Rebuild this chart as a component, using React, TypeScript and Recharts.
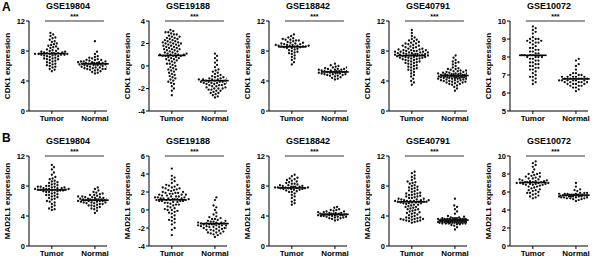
import { ScatterChart, Scatter, XAxis, YAxis, ReferenceLine, Label } from 'recharts'

const groups = ['Tumor', 'Normal']

// CDK1
const cdk1_19804_t = [10.4, 10.2, 10.0, 9.8, 9.7, 9.5, 9.3, 9.2, 9.0, 8.9, 8.8, 8.7, 8.5, 8.4, 8.3, 8.2, 8.1, 8.0, 8.0, 7.9, 7.9, 7.8, 7.8, 7.7, 7.7, 7.7, 7.6, 7.6, 7.6, 7.5, 7.5, 7.5, 7.4, 7.4, 7.3, 7.3, 7.2, 7.1, 7.0, 7.0, 6.9, 6.8, 6.7, 6.6, 6.5, 6.4, 6.3, 6.2, 6.1, 6.0, 5.9, 5.8, 5.6, 5.5, 5.3, 7.6, 7.7, 7.5, 8.6, 6.9]
const cdk1_19804_n = [9.3, 7.9, 7.6, 7.3, 7.1, 7.0, 6.9, 6.8, 6.8, 6.7, 6.7, 6.6, 6.6, 6.5, 6.5, 6.4, 6.4, 6.4, 6.3, 6.3, 6.3, 6.3, 6.2, 6.2, 6.2, 6.1, 6.1, 6.0, 6.0, 6.0, 5.9, 5.9, 5.8, 5.8, 5.7, 5.7, 5.6, 5.6, 5.5, 5.5, 5.4, 5.3, 5.2, 5.1, 5.0, 6.4, 6.3, 6.2, 6.5, 5.9, 6.1, 6.8, 7.2, 5.6, 6.6]
const cdk1_19188_t = [3.2, 3.1, 3.0, 3.0, 2.9, 2.8, 2.8, 2.7, 2.6, 2.6, 2.5, 2.5, 2.4, 2.3, 2.3, 2.2, 2.2, 2.1, 2.1, 2.0, 2.0, 2.0, 1.9, 1.9, 1.8, 1.8, 1.7, 1.7, 1.6, 1.6, 1.5, 1.5, 1.4, 1.4, 1.3, 1.3, 1.2, 1.2, 1.1, 1.1, 1.0, 1.0, 1.0, 0.9, 0.9, 0.9, 0.8, 0.8, 0.7, 0.7, 0.6, 0.5, 0.5, 0.4, 0.3, 0.2, 0.1, 0.0, -0.1, -0.2, -0.3, -0.4, -0.5, -0.6, -0.7, -0.8, -0.9, -1.0, -1.1, -1.2, -1.4, -1.5, -1.6, -1.8, -2.0, -2.2, -2.6, 1.1, 0.9, 1.0, 2.4, 1.8, 0.6, -0.3, 1.5, 2.1, 0.2, -1.3]
const cdk1_19188_n = [1.1, 0.9, 0.7, 0.5, 0.3, 0.1, -0.1, -0.3, -0.5, -0.6, -0.7, -0.8, -0.9, -1.0, -1.0, -1.1, -1.1, -1.2, -1.2, -1.2, -1.3, -1.3, -1.3, -1.4, -1.4, -1.4, -1.5, -1.5, -1.5, -1.6, -1.6, -1.7, -1.7, -1.8, -1.8, -1.9, -1.9, -2.0, -2.0, -2.1, -2.1, -2.2, -2.2, -2.3, -2.4, -2.4, -2.5, -2.6, -2.7, -2.8, -1.3, -1.4, -1.2, -1.5, -1.6, -0.4, -2.0, -1.1, -0.9, -1.7]
const cdk1_18842_t = [10.2, 10.0, 9.8, 9.7, 9.6, 9.5, 9.5, 9.4, 9.3, 9.2, 9.1, 9.0, 9.0, 8.9, 8.9, 8.8, 8.8, 8.7, 8.7, 8.7, 8.6, 8.6, 8.6, 8.5, 8.5, 8.4, 8.4, 8.3, 8.2, 8.1, 8.0, 7.9, 7.8, 7.6, 7.4, 7.2, 7.0, 6.8, 6.5, 6.2, 8.7, 8.6, 9.4, 8.8, 9.1, 7.7]
const cdk1_18842_n = [6.3, 6.1, 6.0, 5.9, 5.8, 5.7, 5.6, 5.6, 5.5, 5.5, 5.4, 5.4, 5.3, 5.3, 5.3, 5.2, 5.2, 5.2, 5.2, 5.1, 5.1, 5.1, 5.0, 5.0, 5.0, 4.9, 4.9, 4.8, 4.8, 4.7, 4.7, 4.6, 4.5, 4.4, 4.3, 4.2, 5.2, 5.3, 5.1, 5.4, 5.6, 4.9, 5.0, 5.8, 5.5]
const cdk1_40791_t = [10.8, 10.4, 10.0, 9.8, 9.6, 9.4, 9.3, 9.2, 9.1, 9.0, 8.9, 8.8, 8.7, 8.6, 8.5, 8.4, 8.3, 8.2, 8.2, 8.1, 8.1, 8.0, 8.0, 7.9, 7.9, 7.8, 7.8, 7.7, 7.7, 7.6, 7.6, 7.6, 7.5, 7.5, 7.5, 7.4, 7.4, 7.4, 7.3, 7.3, 7.2, 7.2, 7.1, 7.1, 7.0, 7.0, 6.9, 6.8, 6.8, 6.7, 6.6, 6.5, 6.4, 6.3, 6.2, 6.1, 6.0, 5.9, 5.8, 5.7, 5.6, 5.4, 5.2, 5.0, 4.8, 4.6, 4.3, 4.0, 3.8, 3.5, 7.5, 7.6, 7.4, 8.0, 8.5, 9.0, 6.9, 7.2, 7.8, 8.3, 6.6, 7.1, 7.7, 9.5, 5.5, 8.7, 7.3, 6.4, 8.1, 7.9]
const cdk1_40791_n = [7.4, 7.1, 6.8, 6.6, 6.4, 6.2, 6.0, 5.8, 5.7, 5.6, 5.5, 5.4, 5.3, 5.3, 5.2, 5.2, 5.1, 5.1, 5.0, 5.0, 5.0, 4.9, 4.9, 4.9, 4.8, 4.8, 4.8, 4.7, 4.7, 4.7, 4.7, 4.6, 4.6, 4.6, 4.6, 4.5, 4.5, 4.5, 4.5, 4.4, 4.4, 4.4, 4.3, 4.3, 4.3, 4.2, 4.2, 4.1, 4.1, 4.0, 4.0, 3.9, 3.9, 3.8, 3.7, 3.6, 3.5, 3.4, 3.2, 3.0, 2.7, 4.6, 4.7, 4.5, 4.8, 4.4, 5.0, 4.2, 4.9, 5.4, 3.8, 4.1, 4.6, 4.3, 5.6, 3.6, 4.7, 5.1, 4.0, 4.5, 6.5, 3.9, 4.8, 4.4, 5.2]
const cdk1_10072_t = [9.7, 9.6, 9.5, 9.4, 9.3, 9.1, 9.0, 9.0, 8.9, 8.9, 8.8, 8.8, 8.7, 8.6, 8.5, 8.5, 8.4, 8.3, 8.3, 8.2, 8.2, 8.1, 8.1, 8.1, 8.0, 8.0, 8.0, 7.9, 7.9, 7.8, 7.8, 7.7, 7.6, 7.6, 7.5, 7.4, 7.4, 7.3, 7.2, 7.1, 7.0, 6.9, 6.8, 6.7, 6.6, 6.5, 8.9, 9.0, 8.0, 7.7, 8.4, 7.3, 8.8, 8.1, 7.5, 6.9]
const cdk1_10072_n = [7.9, 7.8, 7.6, 7.5, 7.3, 7.1, 7.0, 7.0, 6.9, 6.9, 6.9, 6.8, 6.8, 6.8, 6.8, 6.7, 6.7, 6.7, 6.7, 6.7, 6.6, 6.6, 6.6, 6.6, 6.5, 6.5, 6.5, 6.4, 6.4, 6.3, 6.3, 6.2, 6.1, 6.8, 6.7, 6.9, 6.6, 7.0, 6.5, 6.8, 6.7, 6.4, 6.6, 6.9, 7.1]

// MAD2L1
const mad_19804_t = [10.8, 10.5, 10.2, 9.8, 9.5, 9.2, 9.0, 8.9, 8.7, 8.5, 8.4, 8.3, 8.1, 8.0, 8.0, 7.9, 7.9, 7.8, 7.8, 7.7, 7.7, 7.6, 7.6, 7.6, 7.5, 7.5, 7.5, 7.4, 7.4, 7.3, 7.3, 7.2, 7.1, 7.0, 6.9, 6.8, 6.7, 6.6, 6.5, 6.4, 6.2, 6.0, 5.8, 5.6, 5.4, 5.2, 5.0, 4.9, 4.8, 7.6, 7.4, 8.6, 6.3, 7.7, 7.5, 8.2, 5.9, 6.8, 7.9, 7.2]
const mad_19804_n = [7.8, 7.6, 7.4, 7.2, 7.0, 6.9, 6.8, 6.7, 6.6, 6.5, 6.5, 6.4, 6.4, 6.3, 6.3, 6.2, 6.2, 6.2, 6.1, 6.1, 6.1, 6.0, 6.0, 6.0, 5.9, 5.9, 5.8, 5.8, 5.7, 5.7, 5.6, 5.5, 5.4, 5.3, 5.2, 5.1, 5.0, 4.9, 4.7, 4.4, 6.1, 6.2, 6.0, 6.3, 5.9, 6.6, 5.6, 6.8, 7.1, 5.4, 6.4, 6.0, 5.8, 6.2, 6.5]
const mad_19188_t = [4.6, 3.8, 3.6, 3.4, 3.2, 3.0, 2.8, 2.7, 2.6, 2.5, 2.4, 2.3, 2.2, 2.1, 2.0, 2.0, 1.9, 1.9, 1.8, 1.8, 1.7, 1.7, 1.6, 1.6, 1.5, 1.5, 1.4, 1.4, 1.3, 1.3, 1.3, 1.2, 1.2, 1.2, 1.1, 1.1, 1.1, 1.0, 1.0, 1.0, 0.9, 0.9, 0.8, 0.8, 0.7, 0.6, 0.5, 0.4, 0.3, 0.2, 0.1, 0.0, -0.1, -0.2, -0.4, -0.6, -0.8, -1.0, -1.2, -1.4, -1.6, -2.0, -2.2, -2.8, 1.2, 1.1, 1.3, 2.2, 2.5, 1.7, 0.6, -0.3, 1.9, 2.8, 0.0, 1.5, 1.0, -1.1, 2.4, 1.4]
const mad_19188_n = [1.4, 1.1, 0.5, 0.3, 0.0, -0.3, -0.5, -0.7, -0.9, -1.0, -1.1, -1.2, -1.3, -1.3, -1.4, -1.4, -1.5, -1.5, -1.5, -1.6, -1.6, -1.6, -1.7, -1.7, -1.7, -1.8, -1.8, -1.9, -1.9, -2.0, -2.0, -2.1, -2.1, -2.2, -2.3, -2.3, -2.4, -2.5, -2.6, -2.7, -2.8, -3.0, -1.5, -1.6, -1.4, -1.7, -1.8, -1.5, -2.0, -2.2, -1.2, -0.8, -2.5, -1.9, -1.6, -2.6, -1.0]
const mad_18842_t = [9.5, 9.3, 9.1, 9.0, 8.9, 8.7, 8.6, 8.5, 8.4, 8.3, 8.2, 8.1, 8.0, 8.0, 7.9, 7.9, 7.9, 7.8, 7.8, 7.8, 7.7, 7.7, 7.7, 7.6, 7.6, 7.5, 7.5, 7.4, 7.3, 7.2, 7.0, 6.8, 6.6, 6.4, 6.1, 5.9, 5.7, 5.5, 7.8, 7.9, 8.3, 7.6, 8.8, 7.7, 8.1, 7.2]
const mad_18842_n = [5.2, 5.1, 4.9, 4.8, 4.7, 4.6, 4.5, 4.5, 4.4, 4.4, 4.3, 4.3, 4.3, 4.2, 4.2, 4.2, 4.2, 4.1, 4.1, 4.1, 4.0, 4.0, 4.0, 3.9, 3.9, 3.8, 3.8, 3.7, 3.6, 3.5, 3.4, 4.2, 4.3, 4.1, 4.4, 4.0, 4.6, 3.9, 4.2, 4.5, 4.8, 3.7, 4.3, 4.1, 4.0]
const mad_40791_t = [9.9, 9.7, 9.4, 9.2, 9.0, 8.8, 8.6, 8.4, 8.3, 8.1, 8.0, 7.8, 7.7, 7.5, 7.4, 7.3, 7.2, 7.1, 7.0, 6.9, 6.8, 6.7, 6.6, 6.5, 6.4, 6.3, 6.2, 6.2, 6.1, 6.1, 6.0, 6.0, 6.0, 5.9, 5.9, 5.9, 5.8, 5.8, 5.7, 5.7, 5.6, 5.5, 5.4, 5.3, 5.2, 5.1, 5.0, 4.9, 4.8, 4.7, 4.6, 4.5, 4.4, 4.3, 4.2, 4.1, 4.0, 3.9, 3.8, 3.7, 3.7, 3.6, 3.6, 3.5, 3.5, 3.4, 3.4, 3.3, 3.3, 3.2, 3.1, 6.0, 5.9, 6.1, 6.6, 7.0, 5.5, 4.9, 8.5, 6.3, 5.8, 7.6, 3.6, 3.8, 6.8, 5.2, 4.4, 6.4, 5.7, 7.9]
const mad_40791_n = [6.3, 5.4, 5.2, 4.9, 4.6, 4.3, 4.0, 3.9, 3.8, 3.8, 3.7, 3.7, 3.7, 3.6, 3.6, 3.6, 3.6, 3.5, 3.5, 3.5, 3.5, 3.5, 3.4, 3.4, 3.4, 3.4, 3.4, 3.3, 3.3, 3.3, 3.3, 3.3, 3.2, 3.2, 3.2, 3.2, 3.2, 3.1, 3.1, 3.1, 3.1, 3.1, 3.0, 3.0, 3.0, 3.0, 2.9, 2.9, 2.8, 2.7, 2.5, 2.2, 3.5, 3.4, 3.6, 3.3, 3.2, 3.7, 3.1, 3.0, 3.4, 3.5, 3.6, 3.3, 3.2, 3.4, 3.1, 3.5, 3.3, 3.0, 3.6, 3.2, 3.4, 3.7, 3.1, 3.5, 3.3, 3.2, 3.4, 3.6]
const mad_10072_t = [9.4, 9.2, 9.0, 8.8, 8.5, 8.2, 8.1, 8.0, 7.9, 7.8, 7.7, 7.6, 7.5, 7.4, 7.4, 7.3, 7.3, 7.2, 7.2, 7.1, 7.1, 7.1, 7.0, 7.0, 7.0, 6.9, 6.9, 6.9, 6.8, 6.8, 6.7, 6.6, 6.5, 6.4, 6.3, 6.2, 6.1, 6.0, 5.9, 5.8, 5.7, 5.6, 5.5, 5.4, 5.3, 7.0, 7.1, 6.9, 7.5, 6.6, 8.0, 6.2, 7.2, 6.8, 7.7, 5.9]
const mad_10072_n = [7.0, 6.6, 6.3, 6.2, 6.1, 6.0, 5.9, 5.9, 5.8, 5.8, 5.8, 5.7, 5.7, 5.7, 5.7, 5.6, 5.6, 5.6, 5.6, 5.6, 5.5, 5.5, 5.5, 5.5, 5.4, 5.4, 5.4, 5.3, 5.3, 5.2, 5.2, 5.1, 5.0, 5.6, 5.7, 5.5, 5.6, 5.8, 5.4, 5.5, 5.7, 5.6, 5.3, 5.9, 5.5, 5.6, 5.4]

const ticks_0_12 = [0, 4, 8, 12]
const ticks_19188_a = [-4, -2, 0, 2, 4]
const ticks_19188_b = [-4, -2, 0, 2, 4, 6]
const ticks_10072_a = [5, 6, 7, 8, 9, 10]
const ticks_10072_b = [0, 2, 4, 6, 8, 10]

const PANEL_W = 120
const PANEL_H = 127
const AXIS_W = 27
const M_TOP = 21
const M_RIGHT = 15
const X_H = 16
const PLOT_W = PANEL_W - AXIS_W - M_RIGHT
const PLOT_H = PANEL_H - M_TOP - X_H
const X_DOMAIN = [0.47, 2.28]

const rowA = [
  { title: 'GSE19804', tumor: cdk1_19804_t, normal: cdk1_19804_n, ticks: ticks_0_12 },
  { title: 'GSE19188', tumor: cdk1_19188_t, normal: cdk1_19188_n, ticks: ticks_19188_a },
  { title: 'GSE18842', tumor: cdk1_18842_t, normal: cdk1_18842_n, ticks: ticks_0_12 },
  { title: 'GSE40791', tumor: cdk1_40791_t, normal: cdk1_40791_n, ticks: ticks_0_12 },
  { title: 'GSE10072', tumor: cdk1_10072_t, normal: cdk1_10072_n, ticks: ticks_10072_a },
]
const rowB = [
  { title: 'GSE19804', tumor: mad_19804_t, normal: mad_19804_n, ticks: ticks_0_12 },
  { title: 'GSE19188', tumor: mad_19188_t, normal: mad_19188_n, ticks: ticks_19188_b },
  { title: 'GSE18842', tumor: mad_18842_t, normal: mad_18842_n, ticks: ticks_0_12 },
  { title: 'GSE40791', tumor: mad_40791_t, normal: mad_40791_n, ticks: ticks_0_12 },
  { title: 'GSE10072', tumor: mad_10072_t, normal: mad_10072_n, ticks: ticks_10072_b },
]

const panelLeft = [2, 122, 242, 362, 483]
const FONT = '"Liberation Sans", Arial, sans-serif'

// beeswarm layout: push points sideways within a max half-width,
// letting them overlap more when a band gets crowded (y stays the value)
function swarm(values: number[], center: number, domain: number[], maxW = 17) {
  const pxY = PLOT_H / (domain[1] - domain[0])
  const unitX = (X_DOMAIN[1] - X_DOMAIN[0]) / PLOT_W
  const order = values.map((_, i) => i).sort((a, b) => values[a] - values[b])
  const placed: { x: number; y: number }[] = []
  const out: { x: number; y: number }[] = []
  for (const i of order) {
    const py = values[i] * pxY
    let d = 2.8
    let px = 0
    let found = false
    while (!found) {
      for (let k = 0; ; k++) {
        px = k === 0 ? 0 : (k % 2 ? 1 : -1) * Math.ceil(k / 2) * 0.7
        if (Math.abs(px) > maxW) break
        if (!placed.some(p => (p.x - px) ** 2 + (p.y - py) ** 2 < d * d)) { found = true; break }
      }
      d *= 0.85
      if (d < 0.3) { px = 0; found = true }
    }
    placed.push({ x: px, y: py })
    out.push({ x: center + px * unitX, y: values[i] })
  }
  return out
}

const mean = (a: number[]) => a.reduce((s, v) => s + v, 0) / a.length

const Dot = (props: any) => <circle cx={props.cx} cy={props.cy} r={1.15} fill="#111" />

function Panel({ p, gene, left, top }: { p: any; gene: string; left: number; top: number }) {
  const domain = [p.ticks[0], p.ticks[p.ticks.length - 1]]
  const tPts = swarm(p.tumor, 1, domain)
  const nPts = swarm(p.normal, 2, domain)
  const mt = mean(p.tumor)
  const mn = mean(p.normal)
  return (
    <div style={{ position: 'absolute', left, top, width: PANEL_W, height: PANEL_H }}>
      <div style={{ position: 'absolute', left: AXIS_W, width: PLOT_W, top: 1, textAlign: 'center', fontSize: 9, fontWeight: 'bold', lineHeight: '10px' }}>
        {p.title}
      </div>
      <div style={{ position: 'absolute', left: 6 - 50, width: 100, top: M_TOP + PLOT_H / 2 - 5, textAlign: 'center', fontSize: 8, fontWeight: 'bold', lineHeight: '10px', transform: 'rotate(-90deg)' }}>
        {gene} expression
      </div>
      <ScatterChart width={PANEL_W} height={PANEL_H} margin={{ top: M_TOP, right: M_RIGHT, bottom: 0, left: 0 }}>
        <XAxis type="number" dataKey="x" domain={X_DOMAIN} ticks={[1, 2]} allowDataOverflow
          tickFormatter={(v: number) => groups[v - 1]} height={X_H} tickSize={3} tickMargin={1}
          stroke="#000" tick={{ fontSize: 8, fontWeight: 'bold', fill: '#000', fontFamily: FONT }} />
        <YAxis type="number" dataKey="y" domain={domain} ticks={p.ticks} interval={0} width={AXIS_W}
          tickSize={3} tickMargin={1} stroke="#000" tick={{ fontSize: 7.5, fontWeight: 'bold', fill: '#000', fontFamily: FONT }} />
        <Scatter data={tPts} shape={Dot} isAnimationActive={false} />
        <Scatter data={nPts} shape={Dot} isAnimationActive={false} />
        <ReferenceLine segment={[{ x: 0.68, y: mt }, { x: 1.32, y: mt }]} stroke="#000" strokeWidth={1.6} />
        <ReferenceLine segment={[{ x: 1.68, y: mn }, { x: 2.32, y: mn }]} stroke="#000" strokeWidth={1.6} ifOverflow="visible" />
        <ReferenceLine segment={[{ x: 0.84, y: domain[1] }, { x: 2.21, y: domain[1] }]} stroke="#000" strokeWidth={0.8}>
          <Label value="***" position="top" offset={2} fontSize={7} fontWeight="bold" fill="#000" />
        </ReferenceLine>
      </ScatterChart>
    </div>
  )
}

export default function App() {
  return (
    <div style={{ position: 'fixed', left: 0, top: 0, width: 600, height: 262, background: '#fff', fontFamily: FONT, color: '#000', overflow: 'hidden' }}>
      <div style={{ position: 'absolute', left: 2, top: 0, fontSize: 12, fontWeight: 'bold' }}>A</div>
      <div style={{ position: 'absolute', left: 2, top: 131, fontSize: 12, fontWeight: 'bold' }}>B</div>
      {rowA.map((p, i) => <Panel key={'a' + i} p={p} gene="CDK1" left={panelLeft[i]} top={0} />)}
      {rowB.map((p, i) => <Panel key={'b' + i} p={p} gene="MAD2L1" left={panelLeft[i]} top={135} />)}
    </div>
  )
}
